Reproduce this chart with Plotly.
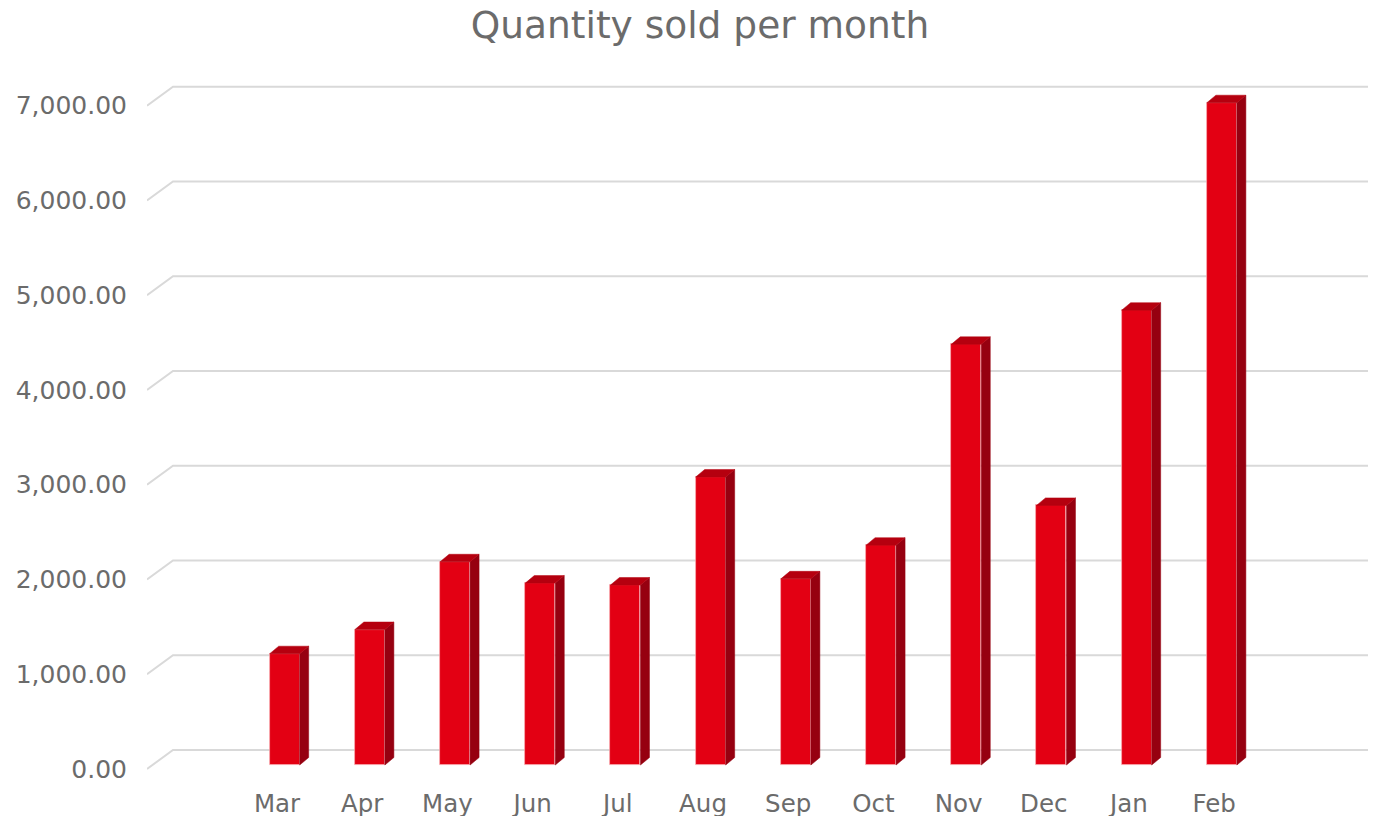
import plotly.graph_objects as go

# ---- data ----
months = ["Mar", "Apr", "May", "Jun", "Jul", "Aug", "Sep", "Oct", "Nov", "Dec", "Jan", "Feb"]
quantity = [1175, 1430, 2145, 1920, 1900, 3040, 1965, 2320, 4440, 2740, 4800, 6990]
y_ticks = [0, 1000, 2000, 3000, 4000, 5000, 6000, 7000]

# ---- style / pseudo-3D geometry (in axis units) ----
PX_PER_CAT = 85.2
PX_PER_UNIT = 0.09475
x_min, x_max = -1.526, 12.805
y_min, y_max = -116, 7377

bar_shift = 0.09
bar_w = 0.352
depth_x = 9 / PX_PER_CAT
depth_y = 7.5 / PX_PER_UNIT
bar_base = 42

wall_dx = 26 / PX_PER_CAT
wall_dy = 19 / PX_PER_UNIT

FRONT = "#e30013"
SIDE = "#960010"
TOP = "#b5000f"
TEXT = "#6b6b6b"
GRID = "#d9d9d9"
FONT = "DejaVu Sans"

xs = [i + bar_shift for i in range(len(months))]

fig = go.Figure()

# front faces
fig.add_trace(go.Bar(
    x=xs, y=quantity, base=bar_base, width=bar_w,
    marker=dict(color=FRONT, line=dict(color="rgba(250,170,175,0.9)", width=0.8)),
    hoverinfo="skip", showlegend=False,
))

# side and top faces
for x, v in zip(xs, quantity):
    r = x + bar_w / 2
    l = x - bar_w / 2
    top = bar_base + v
    fig.add_trace(go.Scatter(
        x=[r, r + depth_x, r + depth_x, r, r],
        y=[bar_base, bar_base + depth_y, top + depth_y, top, bar_base],
        mode="lines", fill="toself", fillcolor=SIDE,
        line=dict(color=SIDE, width=0.5), hoverinfo="skip", showlegend=False,
    ))
    fig.add_trace(go.Scatter(
        x=[l, r, r + depth_x, l + depth_x, l],
        y=[top, top, top + depth_y, top + depth_y, top],
        mode="lines", fill="toself", fillcolor=TOP,
        line=dict(color=TOP, width=0.5), hoverinfo="skip", showlegend=False,
    ))

# perspective gridlines (side wall diagonal + back wall)
shapes = []
for t in y_ticks:
    shapes.append(dict(
        type="path", xref="x", yref="y", layer="below",
        path=f"M {x_min},{t} L {x_min + wall_dx},{t + wall_dy} L {x_max},{t + wall_dy}",
        line=dict(color=GRID, width=2),
    ))

fig.update_layout(
    width=1376, height=816,
    margin=dict(l=147, r=8, t=70, b=36, autoexpand=False),
    paper_bgcolor="white", plot_bgcolor="white",
    font=dict(family=FONT, color=TEXT, size=24),
    title=dict(text="Quantity sold per month", x=700 / 1376, xref="container", xanchor="center",
               y=1 - 25 / 816, yref="container", yanchor="middle",
               font=dict(size=37.5, color=TEXT, family=FONT)),
    shapes=shapes,
    bargap=0,
    xaxis=dict(range=[x_min, x_max], tickvals=list(range(len(months))), ticktext=months,
               showgrid=False, zeroline=False, showline=False, ticks="", automargin=False,
               ticklabelstandoff=6, tickfont=dict(size=24.5, color=TEXT)),
    yaxis=dict(range=[y_min, y_max], tickvals=y_ticks, tickformat=",.2f",
               showgrid=False, zeroline=False, showline=False, ticks="", automargin=False,
               ticklabelstandoff=19, tickfont=dict(size=25, color=TEXT)),
)

fig.write_html("out.html", config={"displayModeBar": False},
               post_script="document.body.style.margin='0';document.body.style.overflow='hidden';")
